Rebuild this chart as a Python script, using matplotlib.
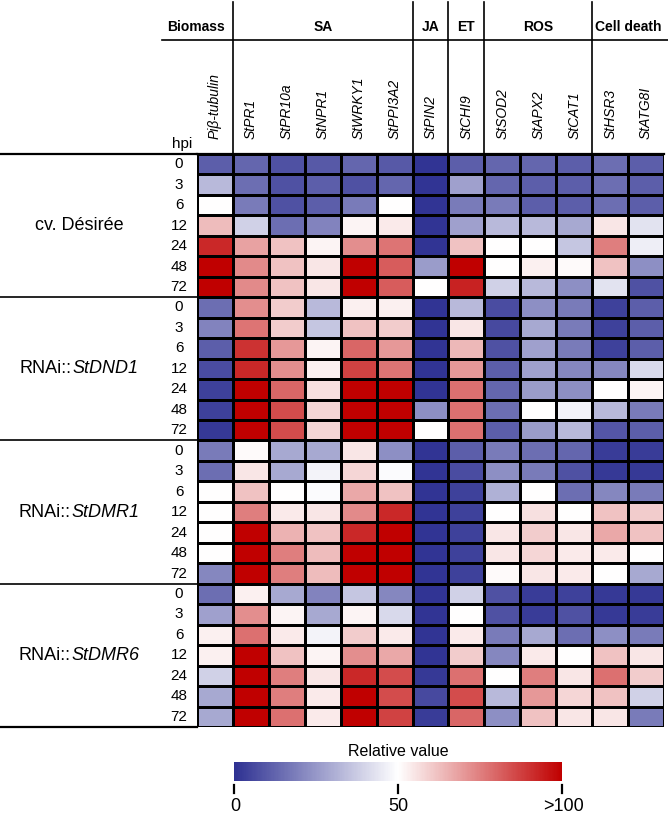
import numpy as np
import matplotlib
matplotlib.use('Agg')
import matplotlib.pyplot as plt
import matplotlib.transforms as mtransforms
from matplotlib.colors import LinearSegmentedColormap

plt.rcParams['font.family'] = ['Liberation Sans', 'DejaVu Sans']

# Column / row labels:
GENES = ['Piβ-tubulin', 'StPR1', 'StPR10a', 'StNPR1', 'StWRKY1', 'StPPI3A2',
         'StPIN2', 'StCHI9', 'StSOD2', 'StAPX2', 'StCAT1', 'StHSR3', 'StATG8I']
CATEGORIES = ['Biomass', 'SA', 'JA', 'ET', 'ROS', 'Cell death']
CAT_SIZES = [1, 5, 1, 1, 3, 2]
LINE_PREFIX = ['cv. Désirée', 'RNAi::', 'RNAi::', 'RNAi::']
LINE_GENE = ['', 'StDND1', 'StDMR1', 'StDMR6']
HPI = ['0', '3', '6', '12', '24', '48', '72']

# Relative values (0-100), rows = hpi:
DESIREE = [
    [11, 13, 8, 10, 13, 10, 1, 11, 13, 13, 11, 15, 11],
    [33, 15, 8, 11, 8, 13, 1, 27, 13, 11, 11, 15, 11],
    [50, 18, 8, 11, 18, 50, 1, 18, 18, 11, 11, 15, 11],
    [63, 39, 15, 20, 52, 54, 1, 27, 33, 33, 29, 55, 43],
    [92, 68, 62, 52, 72, 77, 1, 62, 50, 50, 36, 75, 46],
    [100, 73, 62, 55, 100, 82, 26, 100, 50, 53, 51, 62, 23],
    [100, 73, 62, 55, 100, 82, 50, 93, 39, 33, 23, 43, 8],
]
DND1 = [
    [15, 72, 60, 33, 53, 53, 1, 33, 7, 23, 18, 4, 11],
    [20, 77, 60, 36, 62, 60, 1, 55, 6, 29, 18, 4, 11],
    [11, 90, 70, 52, 80, 70, 1, 64, 8, 27, 18, 4, 11],
    [7, 92, 72, 53, 87, 77, 1, 70, 11, 27, 21, 21, 41],
    [4, 100, 80, 56, 100, 100, 1, 78, 13, 26, 23, 50, 52],
    [4, 100, 85, 58, 100, 100, 23, 78, 15, 50, 47, 33, 18],
    [2, 100, 85, 58, 100, 100, 50, 78, 11, 26, 33, 9, 11],
]
DMR1 = [
    [18, 51, 29, 29, 55, 23, 1, 11, 18, 15, 13, 3, 3],
    [15, 55, 29, 47, 58, 49, 1, 7, 23, 18, 8, 2, 2],
    [50, 62, 50, 49, 67, 62, 1, 4, 31, 50, 15, 21, 18],
    [50, 75, 54, 55, 73, 92, 1, 4, 50, 56, 50, 62, 60],
    [50, 100, 65, 62, 92, 100, 1, 4, 55, 60, 55, 67, 62],
    [50, 100, 75, 63, 100, 100, 1, 4, 55, 58, 54, 54, 50],
    [21, 100, 75, 63, 100, 100, 1, 4, 51, 55, 54, 50, 29],
]
DMR6 = [
    [15, 53, 29, 20, 36, 21, 1, 39, 8, 3, 4, 2, 2],
    [27, 72, 52, 29, 52, 41, 1, 50, 8, 3, 8, 2, 3],
    [53, 78, 54, 47, 60, 54, 1, 54, 18, 29, 15, 23, 18],
    [53, 100, 62, 52, 72, 67, 1, 60, 21, 54, 50, 62, 55],
    [39, 100, 75, 55, 92, 85, 2, 78, 50, 75, 55, 78, 60],
    [29, 100, 75, 54, 100, 85, 6, 85, 33, 70, 58, 62, 39],
    [29, 100, 78, 54, 100, 87, 3, 80, 23, 62, 55, 55, 18],
]

data = np.vstack([DESIREE, DND1, DMR1, DMR6])
n_rows, n_cols = data.shape

cmap = LinearSegmentedColormap.from_list('bwr_rel', ['#2E3192', '#FFFFFF', '#C00000'])

W, H = 668, 817
fig = plt.figure(figsize=(W / 100, H / 100), dpi=100)

# Heatmap axes placed in pixel terms:
left, right, top, bottom = 197, 664, 154, 727
ax = fig.add_axes([left / W, 1 - bottom / H, (right - left) / W, (bottom - top) / H])
mesh = ax.pcolormesh(data, cmap=cmap, vmin=0, vmax=100, edgecolors='black', linewidth=0.8)
ax.set_xlim(0, n_cols)
ax.set_ylim(n_rows, 0)
ax.axis('off')

colw = (right - left) / n_cols
rowh = (bottom - top) / n_rows
def px_x(p):
    return (p - left) / colw
def px_y(p):
    return (p - top) / rowh

# Gene labels (rotated):
for j, g in enumerate(GENES):
    ax.text(j + 0.5, px_y(139), g, rotation=90, ha='center', va='bottom',
            fontsize=10, style='italic', clip_on=False)

# Category headers and lines:
ax.plot([px_x(162), px_x(668)], [px_y(40), px_y(40)], color='black', lw=1.2, clip_on=False)
start = 0
for k, (cat, size) in enumerate(zip(CATEGORIES, CAT_SIZES)):
    cx = start + size / 2
    if k == 0:
        cx = px_x(196)
    ax.text(cx, px_y(27), cat, ha='center', va='center', fontsize=10,
            fontweight='bold', clip_on=False)
    if k > 0:
        ax.plot([start, start], [px_y(2), 0], color='black', lw=1.2, clip_on=False)
    start += size

ax.text(px_x(182), px_y(144), 'hpi', ha='center', va='center', fontsize=11, clip_on=False)

# Left-side row labels and group lines:
renderer = fig.canvas.get_renderer()
for g in range(len(LINE_PREFIX)):
    for i, h in enumerate(HPI):
        ax.text(px_x(179), g * 7 + i + 0.5, h, ha='center', va='center',
                fontsize=11, clip_on=False)
    y = g * 7 + 3.5
    t1 = ax.text(0, y, LINE_PREFIX[g], ha='left', va='center', fontsize=13, clip_on=False)
    t2 = ax.text(0, y, LINE_GENE[g], ha='left', va='center', fontsize=13,
                 style='italic', clip_on=False)
    w1 = t1.get_window_extent(renderer).width
    w2 = t2.get_window_extent(renderer).width if LINE_GENE[g] else 0
    x0 = 79 - (w1 + w2) / 2
    t1.set_x(px_x(x0))
    t2.set_x(px_x(x0 + w1))
for yb in [0, 7, 14, 21, 28]:
    lw = 1.6 if yb in (0, 28) else 1.2
    ax.plot([px_x(0), 0], [yb, yb], color='black', lw=lw, clip_on=False)
ax.plot([0, n_cols], [0, 0], color='black', lw=1.6, clip_on=False)

# Colour bar:
cax = fig.add_axes([234 / W, 1 - 781 / H, 328 / W, 19 / H])
cb = fig.colorbar(mesh, cax=cax, orientation='horizontal')
cb.outline.set_visible(False)
cax.set_xticks([])
trans = mtransforms.blended_transform_factory(cax.transData, cax.transAxes)
for v, lab, dx in zip([0, 50, 100], ['0', '50', '>100'], [1, 0, 1]):
    cax.plot([v, v], [-0.2, -0.65], transform=trans, color='black', lw=1.6, clip_on=False)
    cax.text(v + dx * 100 / 328, -1.35, lab, transform=trans, ha='center', va='center',
             fontsize=13)
cax.text(50, 1.55, 'Relative value', transform=trans, ha='center', va='center', fontsize=11.5)

fig.savefig('out.png', dpi=100)
